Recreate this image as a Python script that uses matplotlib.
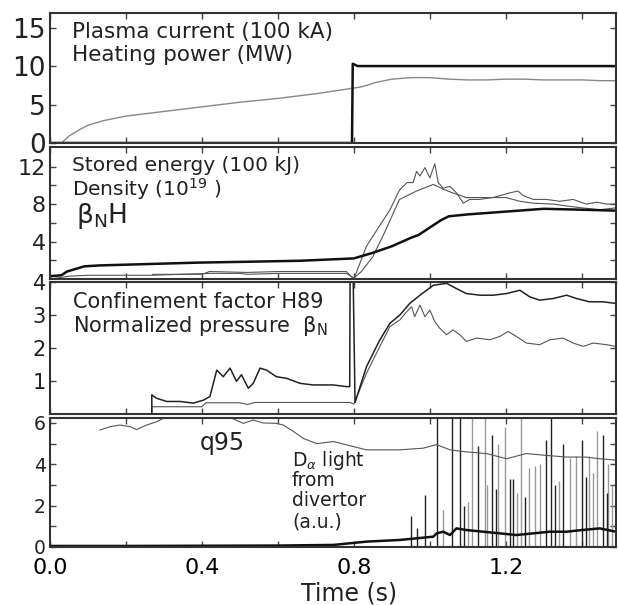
import numpy as np
import matplotlib as mpl
mpl.use('Agg')
import matplotlib.pyplot as plt

plt.rcParams['font.family'] = 'DejaVu Sans'
plt.rcParams['mathtext.fontset'] = 'dejavusans'

# --- panel 1: plasma current / heating power
t_ip = [0.03, 0.05, 0.08, 0.10, 0.14, 0.20, 0.30, 0.40, 0.50, 0.60, 0.70, 0.78, 0.82,
        0.86, 0.90, 0.95, 1.00, 1.05, 1.10, 1.15, 1.20, 1.25, 1.30, 1.35, 1.40, 1.45, 1.49]
ip = [0.0, 0.9, 1.8, 2.3, 2.9, 3.5, 4.1, 4.7, 5.3, 5.8, 6.4, 7.0, 7.3,
      7.9, 8.3, 8.5, 8.5, 8.3, 8.2, 8.2, 8.3, 8.3, 8.2, 8.2, 8.2, 8.1, 8.1]
t_pw = [0.0, 0.795, 0.797, 0.81, 1.49]
pw = [0.0, 0.0, 10.3, 10.0, 10.0]

# --- panel 2: stored energy, density, betaN*H
t_ne = [0.0, 0.03, 0.045, 0.09, 0.13, 0.26, 0.39, 0.53, 0.66, 0.80, 0.85, 0.90, 0.95,
        0.97, 1.00, 1.03, 1.05, 1.10, 1.20, 1.30, 1.40, 1.49]
ne = [0.3, 0.4, 0.8, 1.35, 1.45, 1.6, 1.75, 1.85, 1.95, 2.2, 2.8, 3.5, 4.4,
      4.7, 5.5, 6.3, 6.7, 6.9, 7.2, 7.5, 7.4, 7.3]
t_w = [0.0, 0.05, 0.10, 0.27, 0.42, 0.50, 0.52, 0.60, 0.70, 0.78, 0.80, 0.82, 0.85,
       0.88, 0.92, 0.965, 1.009, 1.035, 1.06, 1.096, 1.149, 1.20, 1.237, 1.272, 1.325,
       1.36, 1.40, 1.447, 1.49]
wst = [0.0, 0.3, 0.4, 0.4, 0.6, 0.6, 0.5, 0.6, 0.6, 0.6, 0.1, 0.8, 2.4,
       4.9, 8.5, 9.4, 10.1, 9.6, 9.2, 8.7, 8.7, 8.7, 8.3, 8.1, 8.0,
       7.8, 7.6, 7.4, 7.6]
t_bh = [0.27, 0.40, 0.42, 0.52, 0.60, 0.70, 0.78, 0.80, 0.833, 0.895, 0.92, 0.94, 0.956,
        0.965, 0.974, 0.987, 1.0, 1.013, 1.022, 1.035, 1.053, 1.07, 1.088, 1.105, 1.13,
        1.166, 1.193, 1.21, 1.232, 1.246, 1.272, 1.307, 1.342, 1.377, 1.412, 1.44, 1.465, 1.49]
bnh = [0.5, 0.5, 0.8, 0.7, 0.8, 0.8, 0.8, 0.0, 3.5, 7.4, 9.5, 10.3, 10.3,
       11.5, 11.0, 11.9, 10.8, 12.3, 10.3, 9.7, 9.9, 9.2, 8.1, 8.5, 8.5,
       8.7, 9.0, 9.2, 9.4, 8.9, 8.5, 8.5, 8.3, 8.5, 8.0, 8.2, 8.0, 8.0]

# --- panel 3: H89 and betaN
t_h89 = [0.268, 0.268, 0.28, 0.307, 0.342, 0.377, 0.404, 0.421, 0.439, 0.456, 0.474, 0.491,
         0.504, 0.522, 0.535, 0.553, 0.57, 0.596, 0.623, 0.658, 0.693, 0.71, 0.746, 0.78,
         0.789, 0.790, 0.798, 0.803, 0.833, 0.868, 0.895, 0.921, 0.947, 0.974, 1.009, 1.044,
         1.07, 1.096, 1.132, 1.167, 1.202, 1.237, 1.263, 1.289, 1.325, 1.36, 1.386, 1.42,
         1.456, 1.49]
h89 = [0.0, 0.58, 0.48, 0.38, 0.38, 0.33, 0.42, 0.53, 1.33, 1.13, 1.39, 0.99,
       1.19, 0.78, 0.93, 1.39, 1.33, 1.13, 1.08, 0.93, 0.88, 0.88, 0.88, 0.83,
       0.83, 4.2, 4.2, 0.35, 1.43, 2.24, 2.75, 3.0, 3.35, 3.6, 3.9, 3.96,
       3.8, 3.65, 3.6, 3.6, 3.65, 3.75, 3.55, 3.45, 3.5, 3.6, 3.5, 3.4,
       3.4, 3.35]
t_bn = [0.268, 0.268, 0.40, 0.41, 0.50, 0.52, 0.54, 0.79, 0.80, 0.833, 0.868, 0.895, 0.921,
        0.939, 0.952, 0.96, 0.974, 0.987, 1.0, 1.013, 1.026, 1.044, 1.061, 1.079, 1.096,
        1.123, 1.158, 1.184, 1.206, 1.228, 1.254, 1.289, 1.316, 1.351, 1.377, 1.404, 1.43,
        1.465, 1.49]
bn = [0.0, 0.22, 0.22, 0.34, 0.34, 0.29, 0.35, 0.35, 0.3, 1.23, 2.04, 2.65, 2.85,
      3.1, 3.25, 2.95, 3.3, 2.95, 3.15, 2.8, 2.6, 2.4, 2.55, 2.4, 2.2,
      2.3, 2.25, 2.35, 2.5, 2.35, 2.15, 2.1, 2.25, 2.3, 2.15, 2.05, 2.15,
      2.1, 2.05]

# --- panel 4: q95 and D-alpha
t_q = [0.132, 0.158, 0.184, 0.211, 0.228, 0.254, 0.281, 0.298, 0.32, 0.40, 0.46, 0.482,
       0.509, 0.535, 0.561, 0.596, 0.614, 0.64, 0.667, 0.702, 0.746, 0.833, 0.921, 0.982,
       1.018, 1.053, 1.096, 1.149, 1.202, 1.254, 1.307, 1.36, 1.41, 1.447, 1.49]
q95 = [5.66, 5.82, 5.9, 5.82, 5.68, 5.9, 6.06, 6.22, 6.5, 6.6, 6.5, 6.2,
       5.98, 6.14, 6.0, 5.98, 5.9, 5.6, 5.25, 5.0, 5.1, 4.7, 4.7, 4.78,
       4.95, 4.7, 4.6, 4.52, 4.27, 4.52, 4.43, 4.35, 4.35, 4.27, 4.2]
t_da = [0.0, 0.2, 0.4, 0.6, 0.746, 0.833, 0.921, 0.965, 1.009, 1.018, 1.035, 1.053,
        1.07, 1.096, 1.14, 1.184, 1.228, 1.272, 1.316, 1.36, 1.40, 1.447, 1.49]
da = [0.05, 0.05, 0.06, 0.07, 0.1, 0.26, 0.34, 0.42, 0.5, 0.66, 0.74, 0.58,
      0.9, 0.82, 0.74, 0.66, 0.58, 0.66, 0.74, 0.74, 0.82, 0.9, 0.74]
elm_t_dark = [0.95, 0.965, 0.987, 1.018, 1.057, 1.079, 1.127, 1.163, 1.21, 1.22,
              1.307, 1.32, 1.35, 1.40, 1.455, 1.49, 1.09, 1.175, 1.25, 1.33, 1.41, 1.465]
elm_h_dark = [1.5, 0.9, 2.5, 6.3, 6.3, 6.3, 4.9, 5.4, 3.3, 3.3,
              5.2, 6.3, 5.0, 5.2, 5.4, 6.3, 2.0, 2.8, 2.4, 3.0, 3.4, 2.6]
elm_t_grey = [1.11, 1.145, 1.18, 1.197, 1.24, 1.26, 1.277, 1.29, 1.37, 1.385, 1.42, 1.44,
              1.47, 1.035, 1.10, 1.15, 1.23, 1.34, 1.43, 1.48]
elm_h_grey = [6.3, 6.3, 5.0, 5.8, 6.3, 3.8, 3.9, 4.0, 4.3, 4.4, 4.4, 5.6,
              4.0, 1.8, 2.2, 3.0, 2.6, 3.2, 3.6, 3.0]

W, H = 618.0, 605.0
fig = plt.figure(figsize=(W / 100, H / 100), dpi=100)


def panel(top, bot):
    ax = fig.add_axes([50 / W, 1 - bot / H, 566 / W, (bot - top) / H])
    ax.set_xlim(0, 1.49)
    ax.set_xticks([0.0, 0.4, 0.8, 1.2])
    ax.set_xticks([0.2, 0.6, 1.0, 1.4], minor=True)
    ax.tick_params(which='both', direction='in', top=True, right=True,
                   length=4, width=1, color='#444', labelbottom=False)
    for s in ax.spines.values():
        s.set_linewidth(1.5)
        s.set_color('#333')
    return ax


def ftext(x, y, s, size, **kw):
    fig.text(x / W, 1 - y / H, s, fontsize=size, va='center', ha='left', color='#222', **kw)


thin = dict(color='#555', lw=0.8)
thick = dict(color='#111', lw=1.8)

ax1 = panel(13, 143)
ax1.plot(t_ip, ip, color='#888', lw=1.0)
ax1.plot(t_pw, pw, **thick)
ax1.set_ylim(0, 16.9)
ax1.set_yticks([0, 5, 10, 15])
ax1.tick_params(axis='y', labelsize=19)

ax2 = panel(147, 279)
ax2.plot(t_w, wst, **thin)
ax2.plot(t_bh, bnh, **thin)
ax2.plot(t_ne, ne, **thick)
ax2.set_ylim(0, 14.1)
ax2.set_yticks([4, 8, 12])
ax2.set_yticks([2, 6, 10], minor=True)
ax2.tick_params(axis='y', labelsize=16)

ax3 = panel(282, 414)
ax3.plot(t_bn, bn, **thin)
ax3.plot(t_h89, h89, color='#222', lw=1.1)
ax3.set_ylim(0, 4)
ax3.set_yticks([1, 2, 3, 4])
ax3.tick_params(axis='y', labelsize=15)

ax4 = panel(418, 547)
ax4.vlines(elm_t_grey, 0, elm_h_grey, color='#999', lw=1.0)
ax4.vlines(elm_t_dark, 0, elm_h_dark, color='#222', lw=1.0)
ax4.plot(t_da, da, **thick)
ax4.plot(t_q, q95, **thin)
ax4.set_ylim(0, 6.24)
ax4.set_yticks([0, 2, 4, 6])
ax4.set_yticks([1, 3, 5], minor=True)
ax4.tick_params(axis='y', labelsize=13.5)
ax4.tick_params(axis='x', labelbottom=True, labelsize=16, pad=8)
ax4.set_xticklabels(['0.0', '0.4', '0.8', '1.2'])

for ax in (ax1, ax2, ax3, ax4):
    ax.tick_params(axis='y', pad=3, labelcolor='#222')

ftext(72, 32, 'Plasma current (100 kA)', 15.5)
ftext(72, 55, 'Heating power (MW)', 15.5)
ftext(72, 166, 'Stored energy (100 kJ)', 14.5)
ftext(72, 189, r'Density (10$^{19}$ )', 14.5)
ftext(76, 216, r'β$_{\mathregular{N}}$H', 19)
ftext(73, 302, 'Confinement factor H89', 15)
ftext(73, 326, r'Normalized pressure  β$_{\mathregular{N}}$', 15)
ftext(200, 443, 'q95', 17)
ftext(292, 461, r'D$_\alpha$ light', 13.5)
ftext(292, 481, 'from', 13.5)
ftext(292, 501, 'divertor', 13.5)
ftext(292, 522, '(a.u.)', 13.5)
fig.text(349 / W, 1 - 594 / H, 'Time (s)', fontsize=17, ha='center', va='center', color='#222')

fig.savefig('out.png', dpi=100)
